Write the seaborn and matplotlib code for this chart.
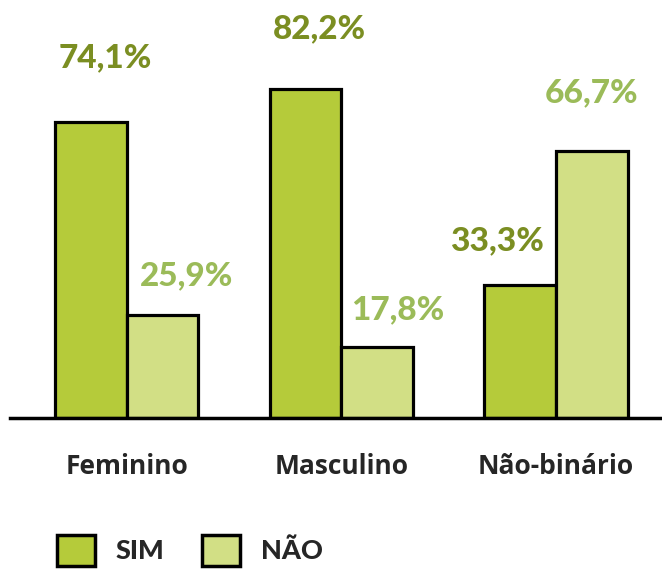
import pandas as pd
import seaborn as sns
import matplotlib.pyplot as plt

# dados
generos = ['Feminino', 'Masculino', 'Não-binário']
sim = [74.1, 82.2, 33.3]
nao = [25.9, 17.8, 66.7]
respostas = ['SIM', 'NÃO']

cores = ['#b5cb3a', '#d2df85']        # barras
cores_texto = ['#7b8e22', '#9bbb59']  # rotulos

tabela = pd.DataFrame({
    'Gênero': generos * 2,
    'Resposta': ['SIM'] * 3 + ['NÃO'] * 3,
    'Valor': sim + nao,
})

sns.set_style('white')
plt.rcParams['font.family'] = ['Lato', 'DejaVu Sans']

fig = plt.figure(figsize=(6.62, 5.72), dpi=100)
ax = fig.add_axes([0.015, 0.269, 0.985, 0.699])

sns.barplot(data=tabela, x='Gênero', y='Valor', hue='Resposta',
            hue_order=respostas, palette=cores, width=0.667, gap=0,
            edgecolor='black', linewidth=2.3, saturation=1, ax=ax)

ax.set_ylim(0, 100)
ax.set_xlim(-0.545, 2.494)
ax.set_xlabel('')
ax.set_ylabel('')
ax.set_yticks([])
for lado in ['top', 'right', 'left']:
    ax.spines[lado].set_visible(False)
ax.spines['bottom'].set_linewidth(2.5)
ax.spines['bottom'].set_color('black')
ax.tick_params(axis='x', length=0, pad=25)
for t in ax.get_xticklabels():
    t.set_fontsize(19)
    t.set_fontweight('bold')
    t.set_family(['Open Sans', 'DejaVu Sans'])

# rotulos de percentagem (deslocamentos em pontos, como no original)
desloc = [[(10, 46), (17, 28)], [(10, 44), (15, 27)], [(-17, 32), (0, 42)]]
for j, cont in enumerate(ax.containers):
    for i, barra in enumerate(cont):
        v = barra.get_height()
        dx, dy = desloc[i][j]
        ax.annotate(f'{v:.1f}%'.replace('.', ','),
                    (barra.get_x() + barra.get_width() / 2, v),
                    xytext=(dx, dy), textcoords='offset points',
                    ha='center', va='center', fontsize=24,
                    fontweight='black', color=cores_texto[j])

sns.move_legend(ax, 'lower left', bbox_to_anchor=(0.05, -0.032),
                bbox_transform=fig.transFigure, ncol=2, frameon=False,
                title=None, handlelength=1.4, handleheight=1.4,
                handletextpad=0.75, columnspacing=1.4, fontsize=19.5)
leg = ax.get_legend()
for t in leg.get_texts():
    t.set_fontweight('black')
for h in leg.legend_handles:
    h.set_linewidth(2.5)

fig.savefig('out.png', dpi=100)
